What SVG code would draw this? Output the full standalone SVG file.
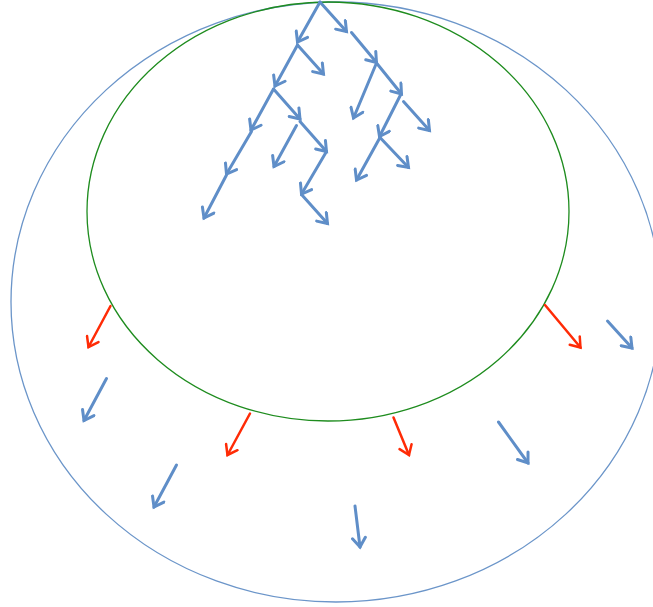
<svg xmlns="http://www.w3.org/2000/svg" width="653" height="607" viewBox="0 0 653 607">
<style>
.b{stroke:#5f8ec8;stroke-width:3;fill:none;stroke-linecap:round;marker-end:url(#hb)}
.r{stroke:#ff2b06;stroke-width:2.5;fill:none;stroke-linecap:round;marker-end:url(#hr)}
</style>
<defs>
<marker id="hb" markerUnits="userSpaceOnUse" markerWidth="14" markerHeight="16" refX="11" refY="8" orient="auto" viewBox="0 0 14 16">
<path d="M2,1.5 L11,8 L2,14.5" fill="none" stroke="#5f8ec8" stroke-width="3" stroke-linecap="round" stroke-linejoin="miter"/>
</marker>
<marker id="hr" markerUnits="userSpaceOnUse" markerWidth="14" markerHeight="16" refX="11" refY="8" orient="auto" viewBox="0 0 14 16">
<path d="M2,1.5 L11,8 L2,14.5" fill="none" stroke="#ff2b06" stroke-width="2.5" stroke-linecap="round"/>
</marker>
</defs>
<rect width="653" height="607" fill="#fff"/>
<g id="outer"><ellipse cx="336" cy="302" rx="325" ry="300" fill="none" stroke="#6b95c9" stroke-width="1.3"/></g>
<g id="inner"><ellipse cx="328" cy="211.5" rx="241" ry="209.5" fill="none" stroke="#1e8c1e" stroke-width="1.3"/></g>
<g id="connectors">
<line class="b" x1="320" y1="2" x2="297.5" y2="42"/>
<line class="b" x1="320" y1="2" x2="346.5" y2="31.5"/>
<line class="b" x1="297.5" y1="45" x2="323.5" y2="74"/>
<line class="b" x1="297.5" y1="45" x2="275" y2="86"/>
<line class="b" x1="351.5" y1="32.5" x2="376.5" y2="62.5"/>
<line class="b" x1="376.5" y1="63" x2="353.5" y2="118"/>
<line class="b" x1="376.5" y1="63" x2="401.5" y2="94"/>
<line class="b" x1="403.5" y1="101.5" x2="429.5" y2="130.5"/>
<line class="b" x1="400.5" y1="95" x2="379.5" y2="136.5"/>
<line class="b" x1="380" y1="137.5" x2="356.5" y2="180"/>
<line class="b" x1="380" y1="137.5" x2="408.5" y2="167.5"/>
<line class="b" x1="273.5" y1="89" x2="251" y2="130"/>
<line class="b" x1="273.5" y1="89" x2="300" y2="119"/>
<line class="b" x1="251.5" y1="131.5" x2="226.5" y2="174"/>
<line class="b" x1="226.5" y1="175" x2="204" y2="218"/>
<line class="b" x1="296.5" y1="125.5" x2="274" y2="166.5"/>
<line class="b" x1="300" y1="121.5" x2="326.5" y2="151.5"/>
<line class="b" x1="326.5" y1="151.5" x2="301.5" y2="194"/>
<line class="b" x1="301.5" y1="194.5" x2="327.5" y2="223.5"/>
<line class="r" x1="110.5" y1="306" x2="88.5" y2="347"/>
<line class="b" x1="106.5" y1="378.5" x2="84" y2="420.5"/>
<line class="r" x1="250" y1="413.5" x2="227.5" y2="455"/>
<line class="b" x1="176.5" y1="465" x2="154" y2="507"/>
<line class="r" x1="545" y1="305" x2="580.5" y2="347.5"/>
<line class="b" x1="607.5" y1="321" x2="632" y2="348"/>
<line class="r" x1="393.5" y1="417.5" x2="409" y2="455"/>
<line class="b" x1="498.5" y1="422" x2="528" y2="463"/>
<line class="b" x1="355" y1="506" x2="360" y2="547"/>
</g>
</svg>
